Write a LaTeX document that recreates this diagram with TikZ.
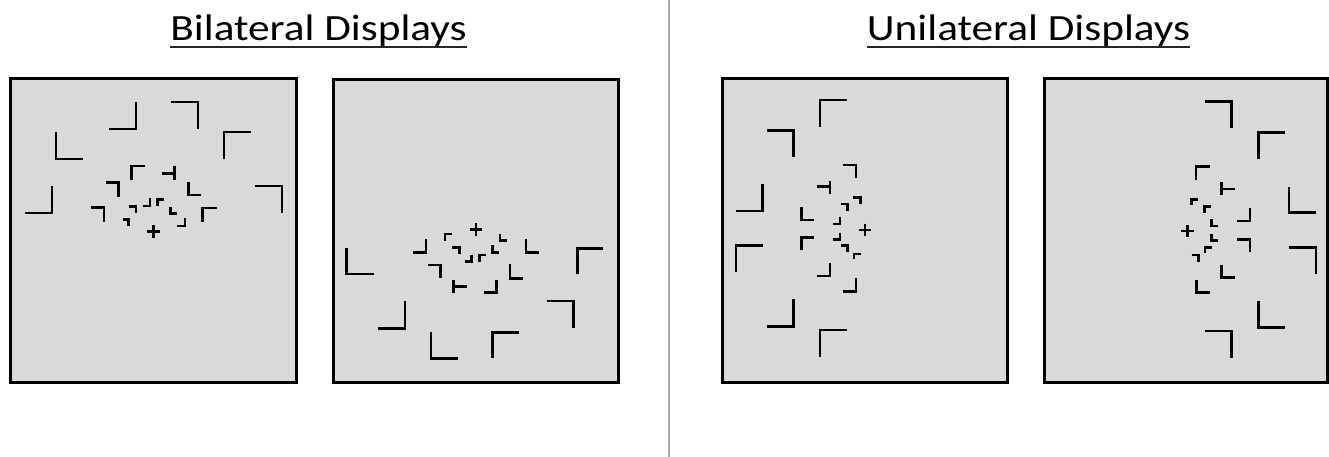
\documentclass[tikz,border=0pt]{standalone}
\usepackage{fontspec}
\setmainfont{Carlito}
\definecolor{panelgray}{RGB}{217,217,217}
\definecolor{divgray}{RGB}{170,170,170}
\newcommand{\Lsh}[4]{\draw[lmark] (#1+#3,#2) -- (#1,#2) -- (#1,#2+#4);}
\newcommand{\Cross}[2]{\draw[crossline] (#1-6.3,#2) -- (#1+6.3,#2) (#1,#2-6.3) -- (#1,#2+6.3);}
\begin{document}
\begin{tikzpicture}[x=1pt,y=-1pt,
  lmark/.style={line width=2.8pt,line join=miter,black},
  crossline/.style={line width=2.9pt,black},
  panel/.style={draw=black,line width=3pt,fill=panelgray},
  title/.style={inner sep=0pt,anchor=base,font=\fontsize{37}{44}\selectfont},
  uline/.style={line width=1.9pt,black!85}]
\useasboundingbox (0,0) rectangle (1329,457);
% divider
\draw[divgray,line width=2.6pt] (669,-2) -- (669,459);
% titles
\node[title] (t1) at (318.5,41) {\scalebox{1.17}[1]{Bilateral Displays}};
\node[title] (t2) at (1028.5,41) {\scalebox{1.17}[1]{Unilateral Displays}};
\draw[uline] (t1.west |- 0,46.7) -- (t1.east |- 0,46.7);
\draw[uline] (t2.west |- 0,46.7) -- (t2.east |- 0,46.7);
% panels
\draw[panel] (10.8,78.8) rectangle (296.2,382.5);
\draw[panel] (333.2,79.8) rectangle (618.5,382.5);
\draw[panel] (722.2,78.8) rectangle (1007.5,382.5);
\draw[panel] (1044.8,78.8) rectangle (1327.5,382.5);
% ---------- panel 1 ----------
\Lsh{136}{129}{-27}{-27}
\Lsh{198}{102}{-27}{27}
\Lsh{56}{159}{27}{-27}
\Lsh{224}{132}{27}{27}
\Lsh{52}{213}{-27}{-27}
\Lsh{282}{186}{-27}{27}
\Lsh{131.7}{166}{13.5}{14}
\draw[lmark] (174.5,166.5) -- (174.5,180.5) (161.5,173.5) -- (174.5,173.5);
\Lsh{118.3}{182.5}{-12.5}{14}
\Lsh{188.3}{195}{12.5}{-13}
\Lsh{202.5}{208}{14}{14}
\Lsh{104}{207.5}{-13}{14}
\Lsh{136}{206.7}{-6.7}{6.7}
\Lsh{150}{206}{-7.3}{-7.7}
\Lsh{157.3}{199.3}{6.7}{6.7}
\Lsh{170.7}{213.3}{6.7}{-6.7}
\Lsh{128.3}{219.3}{-5.7}{6.7}
\Lsh{185}{226}{-7.7}{-7.7}
\Cross{153.3}{231.7}
% ---------- panel 2 ----------
\Lsh{346.7}{274}{27.5}{-26}
\Lsh{577.3}{248.3}{26}{26}
\Lsh{405}{328.3}{-27}{-27}
\Lsh{573.3}{301}{-26.5}{27}
\Lsh{431}{358.3}{27}{-26}
\Lsh{492.7}{332.3}{26.5}{26}
\Cross{476}{229.3}
\Lsh{426}{252.7}{-13.3}{-13.3}
\Lsh{445}{234}{6.7}{6.7}
\Lsh{500}{240.7}{6.7}{-6.7}
\Lsh{526}{252.7}{13.3}{-13.3}
\Lsh{459.3}{247.3}{-7.7}{6.7}
\Lsh{471.7}{261.7}{-6.7}{-6.7}
\Lsh{479.3}{255}{6.7}{7}
\Lsh{492.7}{252.7}{6.7}{-7.7}
\Lsh{440.7}{265}{-12.5}{13.3}
\Lsh{510}{278.3}{13.3}{-14.3}
\draw[lmark] (453.3,280) -- (453.3,293.3) (453.3,286.7) -- (466.7,286.7);
\Lsh{496.7}{292.7}{-12.7}{-12.7}
% ---------- panel 3 ----------
\Lsh{820}{100}{26.7}{27.3}
\Lsh{793.3}{130.7}{-26.7}{26.7}
\Lsh{762.7}{211}{-26.7}{-26.7}
\Lsh{736}{245.7}{26.7}{26.7}
\Lsh{793.3}{326.7}{-26.7}{-27.3}
\Lsh{820}{330}{26.7}{26.7}
\Lsh{856}{165}{-13.3}{13.3}
\draw[lmark] (830,180.7) -- (830,194) (816.7,186.7) -- (830,186.7);
\Lsh{860.7}{197.3}{-7.3}{6.7}
\Lsh{847.7}{204}{-6.7}{7}
\Lsh{801.7}{220}{12.7}{-12.7}
\Lsh{840}{224}{-6.7}{-7.3}
\Cross{865}{230}
\Lsh{840}{239.3}{-6.7}{-6.7}
\Lsh{801.7}{237.3}{12.7}{12.7}
\Lsh{847.7}{245.7}{-6.7}{6}
\Lsh{854}{254}{6.7}{5.3}
\Lsh{830}{276}{-13.3}{-12.7}
\Lsh{856}{291.7}{-13.3}{-13.3}
% ---------- panel 4 ----------
\Lsh{1231.7}{101.7}{-26.7}{26.7}
\Lsh{1258.3}{132.3}{26.7}{27}
\Lsh{1289}{212.3}{27}{-25.7}
\Lsh{1316}{247.3}{-27}{26.7}
\Lsh{1258.3}{327.7}{26.7}{-26.7}
\Lsh{1231.7}{331}{-26.7}{27.3}
\Lsh{1196}{166.7}{14}{13.3}
\draw[lmark] (1221.7,182.3) -- (1221.7,195) (1221.7,189) -- (1235,189);
\Lsh{1191.7}{199.3}{6.7}{5.7}
\Lsh{1204.3}{206.7}{6.7}{6}
\Lsh{1211.7}{226}{6.7}{-6.7}
\Lsh{1250}{221}{-12.7}{-12.7}
\Cross{1187.7}{231}
\Lsh{1211.7}{240.7}{6.7}{-6.3}
\Lsh{1250}{239.3}{-12.7}{12.3}
\Lsh{1205}{247.3}{6.7}{6}
\Lsh{1198.3}{255}{-6.7}{6.7}
\Lsh{1221.7}{277.3}{13.3}{-12.3}
\Lsh{1196.7}{292.7}{13.3}{-12.7}
\end{tikzpicture}
\end{document}
